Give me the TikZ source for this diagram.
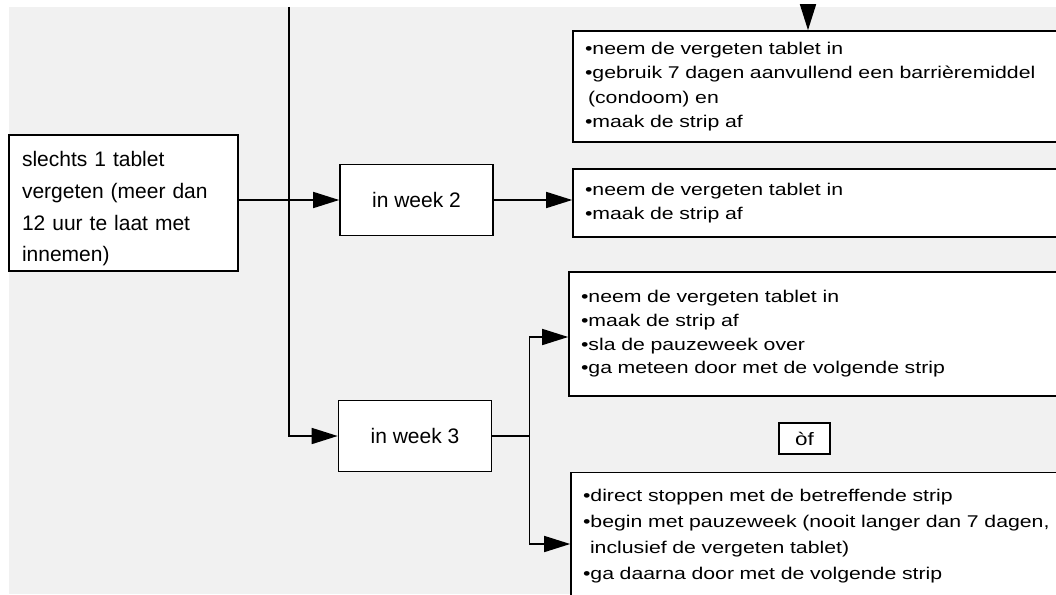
\documentclass[tikz,border=0pt]{standalone}
\usepackage{fontspec}
\setmainfont{Liberation Sans}
\newfontfamily\widefont[FakeStretch=1.25]{Liberation Sans}
\usetikzlibrary{arrows.meta,calc}
\definecolor{bggray}{RGB}{241,241,241}
\begin{document}
\begin{tikzpicture}[x=1pt,y=-1pt,
  box/.style={draw=black, line width=1.6pt, fill=white, rectangle, inner sep=0pt},
  leftbox/.style={box, align=left, inner xsep=13pt, font=\fontsize{21}{31.7}\selectfont},
  weekbox/.style={box, align=center, minimum width=153pt, minimum height=71pt, font=\fontsize{21}{25}\selectfont},
  infobox/.style={box, align=left, inner xsep=12pt, font=\widefont\fontsize{17}{24.4}\selectfont},
  conn/.style={line width=1.6pt, draw=black},
  arr/.style={conn, -{Triangle[length=26pt,width=16pt]}}
]
\useasboundingbox (0,0) rectangle (1056,594);
\clip (0,0) rectangle (1056,594);
\fill[white] (0,0) rectangle (1056,594);
\fill[bggray] (9,7) rectangle (1056,594);

% boxes
\node[leftbox, text width=203pt, minimum height=136pt] (A) at (123.5,203)
  {\rule{0pt}{27pt}slechts 1 tablet\\vergeten (meer dan\\12 uur te laat met\\innemen)};
\node[weekbox] (W2) at (416.5,200) {in week 2};
\node[weekbox] (W3) at (415,436) {in week 3};
\node[infobox, text width=493pt, minimum height=111pt] (B1) at (831.5,86.5)
  {•neem de vergeten tablet in\\•gebruik 7 dagen aanvullend een barrièremiddel\\\hspace*{3pt}(condoom) en\\•maak de strip af};
\node[infobox, text width=493pt, minimum height=68pt] (B2) at (831.5,203)
  {•neem de vergeten tablet in\\•maak de strip af};
\node[infobox, text width=497pt, minimum height=124pt, font=\widefont\fontsize{17}{23.7}\selectfont] (B3) at (829.5,334)
  {•neem de vergeten tablet in\\•maak de strip af\\•sla de pauzeweek over\\•ga meteen door met de volgende strip};
\node[infobox, text width=495pt, minimum height=127pt, font=\widefont\fontsize{17}{26}\selectfont] (B4) at (830.5,536)
  {•direct stoppen met de betreffende strip\\•begin met pauzeweek (nooit langer dan 7 dagen,\\\hspace*{7pt}inclusief de vergeten tablet)\\•ga daarna door met de volgende strip};
\node[box, align=center, minimum width=51pt, minimum height=31pt, font=\widefont\fontsize{18}{20}\selectfont] (OF) at (804.5,438.5) {òf};

% connectors
\coordinate (trunktop) at (289,7);
\coordinate (toparr) at (808,7);
\coordinate (split) at ($(W3.east)+(37pt,0)$);
\draw[arr] (trunktop) |- (W3.west);
\draw[arr] (A.east |- W2.west) -- (W2.west);
\draw[arr] (W2.east) -- (W2.east -| B2.west);
\draw[arr] (toparr) -- (toparr |- B1.north);
\draw[conn] (W3.east) -- (split);
\draw[arr] (split) |- ([yshift=-3pt]B3.west);
\draw[arr] (split) |- ([yshift=-8pt]B4.west);
\end{tikzpicture}
\end{document}
